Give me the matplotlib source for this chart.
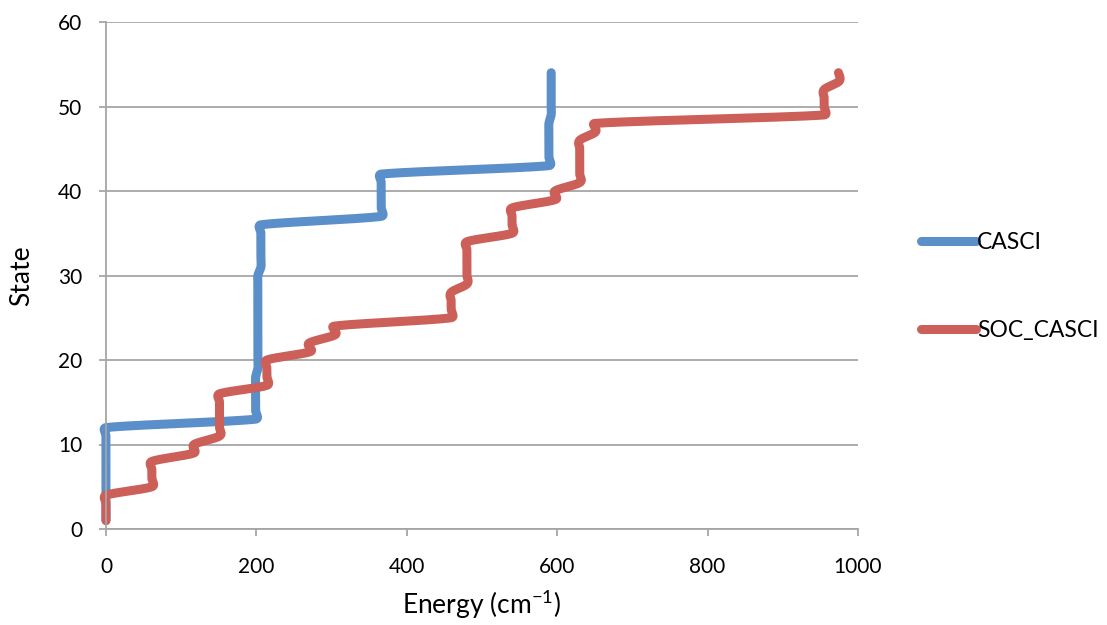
import numpy as np
import matplotlib
matplotlib.use("Agg")
import matplotlib.pyplot as plt

plt.rcParams['font.family'] = ['Lato', 'DejaVu Sans']
plt.rcParams['mathtext.fontset'] = 'custom'
plt.rcParams['mathtext.rm'] = 'Lato'

# state index and energies (cm-1)
states = np.arange(1, 55)
casci = [0] * 12 + [199] * 6 + [202] * 12 + [206] * 6 + [366] * 6 + [589] * 6 + [592] * 6
soc_casci = ([0] * 4 + [61] * 4 + [117, 117] + [151] * 6 + [214] * 4
             + [272, 270, 305, 303] + [459] * 4 + [480] * 6 + [540] * 4
             + [598, 597] + [630] * 6 + [651, 650] + [955] * 4 + [975, 974])

xticks = [0, 200, 400, 600, 800, 1000]
yticks = [0, 10, 20, 30, 40, 50, 60]


def smooth(ax, x, y, n=24, k=0.5):
    # Excel-like smoothed scatter line: Catmull-Rom bezier in pixel space,
    # control arms clamped so the corners only round off a little
    p = ax.transData.transform(np.column_stack([x, y]).astype(float))
    out = []
    for i in range(len(p) - 1):
        p0 = p[i - 1] if i > 0 else p[i]
        p1, p2 = p[i], p[i + 1]
        p3 = p[i + 2] if i + 2 < len(p) else p[i + 1]
        seglen = np.hypot(*(p2 - p1))
        d1 = (p2 - p0) / 6
        d2 = (p3 - p1) / 6
        for d in (d1, d2):
            L = np.hypot(*d)
            if L > k * seglen and L > 0:
                d *= k * seglen / L
        c1 = p1 + d1
        c2 = p2 - d2
        t = np.linspace(0, 1, n)[:, None]
        seg = ((1 - t) ** 3 * p1 + 3 * (1 - t) ** 2 * t * c1
               + 3 * (1 - t) * t ** 2 * c2 + t ** 3 * p2)
        out.append(seg if i == 0 else seg[1:])
    out = ax.transData.inverted().transform(np.vstack(out))
    return out[:, 0], out[:, 1]


fig = plt.figure(figsize=(11.07, 6.25), dpi=100)
ax = fig.add_axes([106 / 1107, 1 - 529 / 625, (858 - 106) / 1107, (529 - 22) / 625])
ax.set_xlim(0, 1000)
ax.set_ylim(0, 60)

grey = '#A6A6A6'
kw = dict(linewidth=6.5, solid_capstyle='round', solid_joinstyle='round', clip_on=False)
ax.plot(*smooth(ax, casci, states), color='#5B8FC9', label='CASCI', **kw)
ax.plot(*smooth(ax, soc_casci, states), color='#CC5F58', label='SOC_CASCI', **kw)

ax.set_xlim(0, 1000)
ax.set_ylim(0, 60)
ax.set_xticks(xticks)
ax.set_yticks(yticks)
ax.yaxis.grid(True, color=grey, linewidth=1.3)
ax.set_axisbelow(True)
for s in ['top', 'right']:
    ax.spines[s].set_visible(False)
for s in ['left', 'bottom']:
    ax.spines[s].set_color(grey)
    ax.spines[s].set_linewidth(1.3)
ax.tick_params(axis='both', colors=grey, length=5, width=1.3, labelsize=15, labelcolor='black')
ax.tick_params(axis='x', pad=15)
ax.tick_params(axis='y', pad=12)

ax.set_xlabel('Energy (cm$^{\\mathregular{-1}}$)', fontsize=19, labelpad=8)
ax.set_ylabel('State', fontsize=19, labelpad=17)

fig.legend(loc='center left', bbox_to_anchor=(921 / 1107, 1 - 286.5 / 625),
           frameon=False, fontsize=16.5, handlelength=2.4, handletextpad=0.05,
           labelspacing=2.9, borderpad=0, borderaxespad=0)

fig.savefig('out.png', dpi=100)
